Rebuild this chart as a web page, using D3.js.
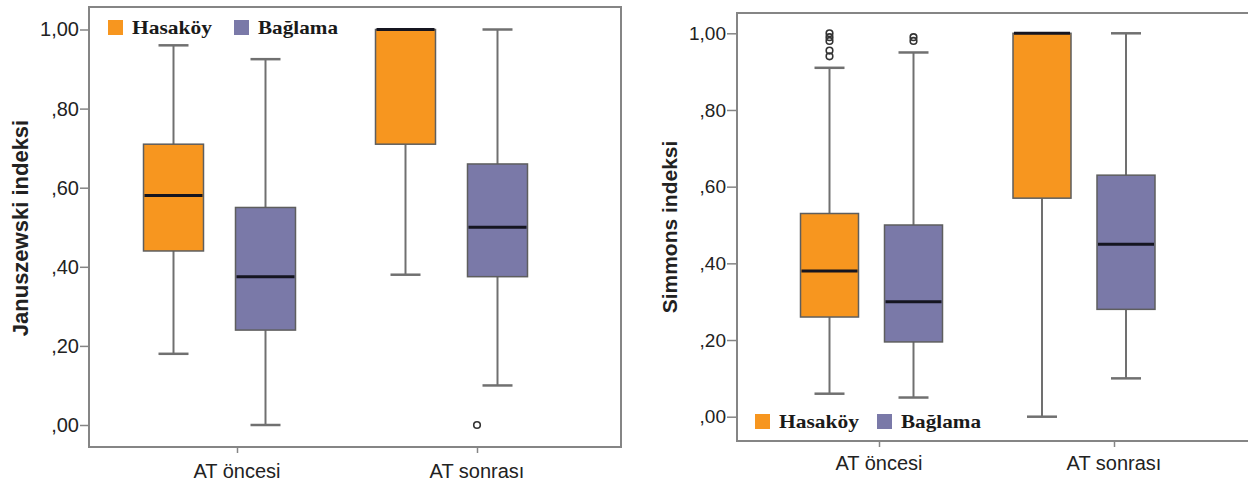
<!DOCTYPE html>
<html>
<head>
<meta charset="utf-8">
<script src="https://cdn.jsdelivr.net/npm/d3@7"></script>
<style>
  body { margin: 0; background: #fff; }
  svg { display: block; }
</style>
</head>
<body>
<div id="chart"></div>
<script>
// categories and groups
var categories = ["AT öncesi", "AT sonrası"];
var series = ["Hasaköy", "Bağlama"];
var yTicks = [0, 0.2, 0.4, 0.6, 0.8, 1.0];

// box order: Hasaköy öncesi, Bağlama öncesi, Hasaköy sonrası, Bağlama sonrası
var boxCats = ["AT öncesi", "AT öncesi", "AT sonrası", "AT sonrası"];
var boxSeries = ["Hasaköy", "Bağlama", "Hasaköy", "Bağlama"];

// Januszewski indeksi
var janMin    = [0.18, 0.00, 0.38, 0.10];
var janQ1     = [0.44, 0.24, 0.71, 0.375];
var janMedian = [0.58, 0.375, 1.00, 0.50];
var janQ3     = [0.71, 0.55, 1.00, 0.66];
var janMax    = [0.96, 0.925, 1.00, 1.00];
var janOutliers = [{cat: "AT sonrası", series: "Bağlama", value: 0.00}];

// Simmons indeksi
var simMin    = [0.06, 0.05, 0.00, 0.10];
var simQ1     = [0.26, 0.195, 0.57, 0.28];
var simMedian = [0.38, 0.30, 1.00, 0.45];
var simQ3     = [0.53, 0.50, 1.00, 0.63];
var simMax    = [0.91, 0.95, 1.00, 1.00];
var simOutliers = [
  {cat: "AT öncesi", series: "Hasaköy", value: 1.00},
  {cat: "AT öncesi", series: "Hasaköy", value: 0.99},
  {cat: "AT öncesi", series: "Hasaköy", value: 0.98},
  {cat: "AT öncesi", series: "Hasaköy", value: 0.955},
  {cat: "AT öncesi", series: "Hasaköy", value: 0.94},
  {cat: "AT öncesi", series: "Bağlama", value: 0.99},
  {cat: "AT öncesi", series: "Bağlama", value: 0.98}
];

var colors = {"Hasaköy": "#f7961f", "Bağlama": "#7a79a8"};

var svg = d3.select("#chart").append("svg")
    .attr("width", 1248)
    .attr("height", 484);

function fmt(v) {
    return d3.format(".2f")(v).replace(".", ",").replace(/^0/, "");
}

function drawPanel(p) {
    var g = svg.append("g");

    var y = d3.scaleLinear().domain([0, 1]).range([p.yBottom, p.yTop]);
    // cluster positions of the boxes
    var xc = d3.scalePoint().domain(categories).range(p.clusterRange);
    var xs = d3.scalePoint().domain(series).range([-p.offset, p.offset]);
    // tick positions on the axis
    var xt = d3.scalePoint().domain(categories).range(p.tickRange);

    var rows = boxCats.map(function(c, i) {
        return {cat: c, series: boxSeries[i], min: p.min[i], q1: p.q1[i],
                median: p.median[i], q3: p.q3[i], max: p.max[i]};
    });
    function cx(d) { return xc(d.cat) + xs(d.series); }

    // frame
    g.append("rect")
        .attr("x", p.frame[0]).attr("y", p.frame[1])
        .attr("width", p.frame[2] - p.frame[0])
        .attr("height", p.frame[3] - p.frame[1])
        .attr("fill", "none")
        .attr("stroke", "#858585")
        .attr("stroke-width", 2);

    // y axis
    var ya = g.append("g")
        .attr("transform", "translate(" + p.frame[0] + ",0)")
        .call(d3.axisLeft(y).tickValues(yTicks).tickFormat(fmt).tickSize(p.tickLen).tickPadding(1));
    ya.select(".domain").remove();
    ya.selectAll("line").attr("stroke", "#858585").attr("stroke-width", 1.5);
    ya.selectAll("text")
        .attr("fill", "#222")
        .style("font-family", "Arial, 'Liberation Sans', sans-serif")
        .style("font-size", p.tickFont + "px");

    // x axis
    var xa = g.append("g")
        .attr("transform", "translate(0," + p.frame[3] + ")")
        .call(d3.axisBottom(xt).tickSize(6).tickPadding(0));
    xa.select(".domain").remove();
    xa.selectAll("line").attr("stroke", "#858585").attr("stroke-width", 1.5);
    xa.selectAll("text").remove();
    g.selectAll(".xlab")
        .data(categories)
        .enter()
        .append("text")
          .attr("x", function(d){ return xt(d); })
          .attr("y", p.xLabelY)
          .attr("text-anchor", "middle")
          .attr("fill", "#222")
          .style("font-family", "Arial, 'Liberation Sans', sans-serif")
          .style("font-size", "20px")
          .text(function(d){ return d; });

    // whiskers
    g.selectAll(".wlow")
        .data(rows).enter().append("line")
          .attr("x1", cx).attr("x2", cx)
          .attr("y1", function(d){ return y(d.min); })
          .attr("y2", function(d){ return y(d.q1); })
          .attr("stroke", "#707070").attr("stroke-width", 2);
    g.selectAll(".whigh")
        .data(rows).enter().append("line")
          .attr("x1", cx).attr("x2", cx)
          .attr("y1", function(d){ return y(d.q3); })
          .attr("y2", function(d){ return y(d.max); })
          .attr("stroke", "#707070").attr("stroke-width", 2);
    g.selectAll(".cap")
        .data(rows.reduce(function(a, d){
            a.push({d: d, v: d.min});
            if (d.max > d.q3) a.push({d: d, v: d.max});
            return a;
        }, []))
        .enter().append("line")
          .attr("x1", function(e){ return cx(e.d) - p.capW / 2; })
          .attr("x2", function(e){ return cx(e.d) + p.capW / 2; })
          .attr("y1", function(e){ return y(e.v); })
          .attr("y2", function(e){ return y(e.v); })
          .attr("stroke", "#707070").attr("stroke-width", 2.5);

    // boxes
    g.selectAll(".box")
        .data(rows).enter().append("rect")
          .attr("x", function(d){ return cx(d) - p.boxW / 2; })
          .attr("y", function(d){ return y(d.q3); })
          .attr("width", p.boxW)
          .attr("height", function(d){ return y(d.q1) - y(d.q3); })
          .attr("fill", function(d){ return colors[d.series]; })
          .attr("stroke", "#5e5e5e")
          .attr("stroke-width", 1.5);

    // medians
    g.selectAll(".med")
        .data(rows).enter().append("line")
          .attr("x1", function(d){ return cx(d) - p.boxW / 2 + 1; })
          .attr("x2", function(d){ return cx(d) + p.boxW / 2 - 1; })
          .attr("y1", function(d){ return y(d.median); })
          .attr("y2", function(d){ return y(d.median); })
          .attr("stroke", "#151520").attr("stroke-width", 3);

    // outliers
    g.selectAll(".out")
        .data(p.outliers).enter().append("circle")
          .attr("cx", function(d){
              return p.outlierAtTick ? xt(d.cat) : xc(d.cat) + xs(d.series);
          })
          .attr("cy", function(d){ return y(d.value); })
          .attr("r", 3.3)
          .attr("fill", "none")
          .attr("stroke", "#333")
          .attr("stroke-width", 1.6);

    // y title
    g.append("text")
        .attr("transform", "translate(" + p.titleX + "," + p.titleY + ") rotate(-90)")
        .attr("text-anchor", "middle")
        .attr("fill", "#222")
        .style("font-family", "Arial, 'Liberation Sans', sans-serif")
        .style("font-weight", "bold")
        .style("font-size", p.titleFont + "px")
        .text(p.title);

    // legend
    var lg = g.selectAll(".leg")
        .data(series).enter().append("g")
          .attr("transform", function(d, i){
              return "translate(" + p.legendX[i] + "," + p.legendY + ")";
          });
    lg.append("rect")
        .attr("x", 0).attr("y", -14)
        .attr("width", 15).attr("height", 15)
        .attr("fill", function(d){ return colors[d]; });
    lg.append("text")
        .attr("x", 24).attr("y", 0)
        .attr("textLength", 80)
        .attr("lengthAdjust", "spacingAndGlyphs")
        .attr("fill", "#1a1a1a")
        .style("font-family", "'Liberation Serif', 'Times New Roman', serif")
        .style("font-weight", "bold")
        .style("font-size", "19px")
        .text(function(d){ return d; });
}

drawPanel({
    frame: [89, 7, 621, 447],
    yBottom: 425, yTop: 29.5,
    clusterRange: [219.5, 451.5], offset: 46,
    tickRange: [237, 477],
    boxW: 60, capW: 30, tickLen: 9, tickFont: 20,
    xLabelY: 478,
    min: janMin, q1: janQ1, median: janMedian, q3: janQ3, max: janMax,
    outliers: janOutliers, outlierAtTick: true,
    title: "Januszewski indeksi", titleX: 28, titleY: 228, titleFont: 22,
    legendX: [108, 234], legendY: 34
});

drawPanel({
    frame: [737, 13, 1262, 441],
    yBottom: 416.7, yTop: 33.3,
    clusterRange: [871.5, 1084], offset: 42,
    tickRange: [879, 1114],
    boxW: 58, capW: 30, tickLen: 10, tickFont: 19,
    xLabelY: 470,
    min: simMin, q1: simQ1, median: simMedian, q3: simQ3, max: simMax,
    outliers: simOutliers, outlierAtTick: false,
    title: "Simmons indeksi", titleX: 677, titleY: 227, titleFont: 21,
    legendX: [755, 877], legendY: 428
});
</script>
</body>
</html>
